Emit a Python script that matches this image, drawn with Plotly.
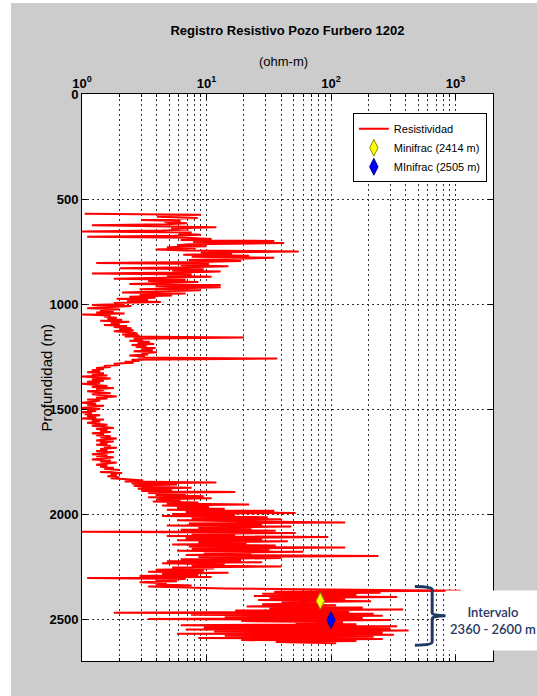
import numpy as np
import plotly.graph_objects as go

# resistivity log, read every 5 m from 570 m down to 2615 m (ohm-m)
depth = np.arange(570, 2620, 5)
resist = [
    1.05, 9.0, 5.0, 4.0, 8.5, 5.2, 3.0, 6.2, 4.6, 7.0,
    4.8, 1.2, 6.5, 12.0, 5.2, 7.2, 4.4, 1.0, 7.6, 6.0,
    9.0, 5.5, 1.1, 6.8, 11.0, 6.2, 35.0, 7.8, 42.0, 7.2,
    5.8, 10.0, 4.8, 8.2, 3.9, 6.8, 55.0, 9.0, 16.0, 6.5,
    22.0, 7.6, 35.0, 11.0, 7.2, 19.0, 8.5, 1.3, 10.5, 6.2,
    15.0, 6.8, 2.0, 9.5, 5.3, 13.0, 6.2, 1.2, 7.6, 4.8,
    11.0, 4.4, 1.8, 6.8, 3.4, 8.6, 4.8, 2.4, 13.0, 3.9,
    13.0, 5.8, 2.9, 9.0, 3.9, 2.1, 6.8, 2.9, 5.3, 2.4,
    3.9, 1.9, 3.4, 2.3, 4.3, 1.8, 2.2, 1.2, 2.5, 1.6,
    1.1, 2.0, 1.4, 1.8, 1.3, 2.2, 1.0, 1.7, 1.5, 1.9,
    1.6, 2.1, 1.4, 2.4, 1.7, 2.0, 1.5, 2.3, 1.8, 2.5,
    2.0, 2.6, 1.8, 2.4, 2.8, 2.1, 2.9, 2.2, 20.0, 2.6,
    3.1, 2.4, 3.5, 2.8, 3.8, 2.5, 3.3, 2.7, 3.9, 3.0,
    3.7, 2.6, 4.0, 3.0, 3.4, 2.4, 3.2, 2.8, 37.0, 2.5,
    2.9, 2.2, 2.6, 1.8, 2.0, 1.5, 1.7, 1.3, 1.5, 1.2,
    1.4, 1.1, 1.5, 1.2, 1.6, 1.0, 1.3, 1.7, 1.2, 1.5,
    1.1, 1.4, 1.0, 1.3, 1.6, 1.2, 1.8, 1.3, 1.5, 1.1,
    1.4, 1.7, 1.2, 1.5, 1.9, 1.3, 1.6, 1.1, 1.4, 1.2,
    1.0, 1.3, 1.1, 1.5, 1.2, 1.0, 1.4, 1.1, 1.3, 1.0,
    1.2, 1.05, 1.4, 1.1, 1.3, 1.0, 1.5, 1.2, 1.4, 1.1,
    1.3, 1.6, 1.2, 1.5, 1.8, 1.3, 1.6, 1.4, 1.7, 1.2,
    1.5, 1.3, 1.7, 1.4, 1.9, 1.5, 1.3, 1.8, 1.4, 1.6,
    1.3, 1.7, 1.5, 1.9, 1.4, 1.6, 1.3, 1.8, 1.5, 1.2,
    1.6, 1.3, 1.8, 1.5, 1.2, 1.7, 1.4, 1.9, 1.5, 1.3,
    1.6, 1.4, 1.8, 1.5, 2.0, 1.6, 1.4, 2.1, 1.7, 1.9,
    1.6, 2.0, 1.7, 2.3, 3.1, 2.2, 12.0, 2.5, 5.8, 2.6,
    3.1, 7.6, 2.8, 5.3, 3.0, 17.0, 3.4, 6.8, 3.9, 9.5,
    3.4, 11.0, 4.0, 6.2, 3.7, 8.6, 4.8, 22.0, 4.4, 10.5,
    5.8, 14.0, 4.8, 35.0, 6.8, 52.0, 5.3, 17.0, 4.4, 31.0,
    7.6, 40.0, 5.8, 19.0, 130.0, 7.2, 28.0, 4.8, 48.0, 8.6,
    23.0, 6.2, 36.0, 1.0, 52.0, 7.6, 17.0, 4.8, 95.0, 6.8,
    28.0, 5.8, 45.0, 8.6, 21.0, 5.3, 36.0, 7.2, 130.0, 7.6,
    32.0, 5.8, 60.0, 9.5, 23.0, 6.8, 240.0, 8.6, 40.0, 6.2,
    19.0, 4.8, 28.0, 4.4, 14.0, 7.6, 40.0, 5.3, 11.5, 3.9,
    9.5, 3.4, 15.0, 4.4, 8.6, 2.9, 11.0, 1.1, 6.8, 3.9,
    5.8, 2.9, 4.8, 3.9, 7.6, 3.4, 5.8, 14.0, 100.0, 1100.0,
    35.0, 250.0, 28.0, 160.0, 24.0, 340.0, 32.0, 130.0, 26.0, 210.0,
    40.0, 80.0, 28.0, 110.0, 21.0, 180.0, 32.0, 380.0, 17.0, 140.0,
    1.8, 220.0, 7.5, 260.0, 14.0, 180.0, 3.4, 300.0, 19.0, 125.0,
    52.0, 160.0, 6.2, 340.0, 9.5, 300.0, 6.8, 420.0, 11.5, 260.0,
    5.8, 320.0, 14.0, 220.0, 8.6, 260.0, 19.0, 160.0, 36.0, 110.0,
]

minifrac1_x = [82]
minifrac1_y = [2414]
minifrac2_x = [100]
minifrac2_y = [2505]

interval = [2360, 2600]

x_ticks = [1, 10, 100, 1000]
x_ticktext = ["10<sup>0</sup>", "10<sup>1</sup>", "10<sup>2</sup>", "10<sup>3</sup>"]
x_minor = [m * d for d in [1, 10, 100, 1000] for m in range(2, 10)]
y_ticks = [0, 500, 1000, 1500, 2000, 2500]

narrow = "Liberation Sans Narrow, Arial Narrow, Liberation Sans, Arial"
navy = "#1F3864"

fig = go.Figure()
fig.add_trace(go.Scatter(x=resist, y=depth, mode="lines", name="Resistividad",
                         line=dict(color="red", width=2)))
fig.add_trace(go.Scatter(x=minifrac1_x, y=minifrac1_y, mode="markers", name="Minifrac (2414 m)",
                         marker=dict(symbol="diamond-tall", size=12, color="#FFFF00",
                                     line=dict(color="#8A8A00", width=1))))
fig.add_trace(go.Scatter(x=minifrac2_x, y=minifrac2_y, mode="markers", name="MInifrac (2505 m)",
                         marker=dict(symbol="diamond-tall", size=12, color="#0000FF",
                                     line=dict(color="#000080", width=1))))

grid = dict(showgrid=True, gridcolor="#333333", gridwidth=1, griddash="2px,3px")

fig.update_layout(
    width=537, height=696,
    margin=dict(l=82, r=44, t=94, b=35),
    paper_bgcolor="#CCCCCC",
    plot_bgcolor="white",
    font=dict(family=narrow, color="black", size=12),
    title=dict(text="Registro Resistivo Pozo Furbero 1202", x=0.5, xref="paper", xanchor="center",
               y=1 - 30 / 696, yref="container", yanchor="middle",
               font=dict(family=narrow, size=13, weight="bold", color="black")),
    xaxis=dict(type="log", range=[0, np.log10(2000)], side="top",
               tickmode="array", tickvals=x_ticks, ticktext=x_ticktext,
               ticks="inside", ticklen=5, tickcolor="black",
               tickfont=dict(family=narrow, size=13, weight="bold"),
               showline=True, linecolor="black", linewidth=1, mirror="ticks",
               minor=dict(tickmode="array", tickvals=x_minor, ticks="inside", ticklen=3,
                          tickcolor="black", **grid),
               zeroline=False, **grid),
    yaxis=dict(range=[2700, 0], tickmode="array", tickvals=y_ticks,
               ticks="inside", ticklen=5, tickcolor="black",
               tickfont=dict(family=narrow, size=13, weight="bold"),
               showline=True, linecolor="black", linewidth=1, mirror="ticks",
               zeroline=False, **grid),
    legend=dict(x=0.985, xanchor="right", y=0.966, yanchor="top",
                bgcolor="white", bordercolor="black", borderwidth=1,
                font=dict(family=narrow, size=11), tracegroupgap=0, itemwidth=30),
    showlegend=True,
)

# white strips at the left and top of the picture
fig.add_shape(type="rect", xref="paper", yref="paper", x0=-0.3, x1=(11 - 82) / 411,
              y0=-0.2, y1=1.3, fillcolor="white", line_width=0, layer="below")
fig.add_shape(type="rect", xref="paper", yref="paper", x0=-0.3, x1=1.2,
              y0=(661 - 3) / 567, y1=1.3, fillcolor="white", line_width=0, layer="below")

# subtitle (x label on top)
fig.add_annotation(text="(ohm-m)", xref="paper", yref="paper", x=0.49, y=(661 - 61) / 567,
                   showarrow=False, font=dict(family=narrow, size=13), yanchor="middle")
# y label
fig.add_annotation(text="Profundidad (m)", xref="paper", yref="paper", x=(46 - 82) / 411, y=0.5,
                   xanchor="center", yanchor="middle",
                   textangle=-90, showarrow=False, font=dict(family="Liberation Sans, Arial", size=15))

# brace for the interval
top, bot = interval[0] - 15, interval[1] + 25
mid = (top + bot) / 2
x0, x1, tip = 0.81, 0.852, 0.887
path = (f"M {x0},{top} Q {x1},{top} {x1},{top + 15} L {x1},{mid - 15} "
        f"Q {x1},{mid} {tip},{mid} Q {x1},{mid} {x1},{mid + 15} "
        f"L {x1},{bot - 15} Q {x1},{bot} {x0},{bot}")
fig.add_shape(type="path", path=path, xref="paper", yref="y",
              line=dict(color=navy, width=3))

fig.add_annotation(text=f"Intervalo<br>{interval[0]} - {interval[1]} m",
                   xref="paper", yref="y", x=(445 - 82) / 411, y=mid + 20,
                   xanchor="left", yanchor="middle", showarrow=False,
                   width=92, height=57, bgcolor="white", align="center",
                   font=dict(family="Lato, Open Sans", size=13, color=navy, weight=600))

fig.write_html("out.html", config={"displayModeBar": False},
               post_script="document.body.style.margin='0';document.body.style.overflow='hidden';")
